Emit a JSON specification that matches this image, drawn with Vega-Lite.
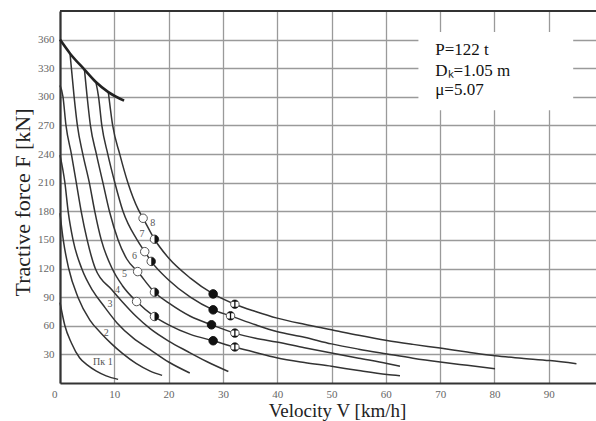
{
  "$schema": "https://vega.github.io/schema/vega-lite/v6.json",
  "width": 536,
  "height": 372,
  "autosize": {"type": "none"},
  "padding": {"left": 60, "top": 11, "right": 0, "bottom": 38},
  "background": "white",
  "config": {"view": {"stroke": null}, "font": "Liberation Serif"},
  "datasets": {
    "box": [{"V1": 66, "V2": 94.5, "F1": 286, "F2": 368}],
    "top": [{"F": 390}],
    "limit": [
      {"V": 0, "F": 360}, {"V": 1.84, "F": 345.5}, {"V": 4.5, "F": 328.6},
      {"V": 6.6, "F": 315.6}, {"V": 8.9, "F": 305}, {"V": 11.8, "F": 296}
    ],
    "curves": [
      {"curve": "1", "V": 0, "F": 84.4}, {"curve": "1", "V": 0.9, "F": 60}, {"curve": "1", "V": 2.1, "F": 42},
      {"curve": "1", "V": 3.6, "F": 26.5}, {"curve": "1", "V": 5, "F": 19}, {"curve": "1", "V": 6.7, "F": 12.5},
      {"curve": "1", "V": 8.5, "F": 7.5}, {"curve": "1", "V": 10.7, "F": 3.8},

      {"curve": "2", "V": 0, "F": 178}, {"curve": "2", "V": 0.6, "F": 150}, {"curve": "2", "V": 1.6, "F": 120},
      {"curve": "2", "V": 3.3, "F": 90}, {"curve": "2", "V": 5.5, "F": 66}, {"curve": "2", "V": 7.6, "F": 52},
      {"curve": "2", "V": 9.5, "F": 41}, {"curve": "2", "V": 11.5, "F": 31}, {"curve": "2", "V": 14, "F": 20.5},
      {"curve": "2", "V": 16.6, "F": 12.5}, {"curve": "2", "V": 18.8, "F": 8},

      {"curve": "3", "V": 0, "F": 239}, {"curve": "3", "V": 0.9, "F": 210}, {"curve": "3", "V": 1.5, "F": 180},
      {"curve": "3", "V": 2.4, "F": 150}, {"curve": "3", "V": 4, "F": 120}, {"curve": "3", "V": 6, "F": 97},
      {"curve": "3", "V": 7.9, "F": 82}, {"curve": "3", "V": 10.5, "F": 63}, {"curve": "3", "V": 13.5, "F": 47},
      {"curve": "3", "V": 16.6, "F": 35}, {"curve": "3", "V": 20, "F": 22}, {"curve": "3", "V": 23.9, "F": 10.5},

      {"curve": "4", "V": 0, "F": 312}, {"curve": "4", "V": 0.55, "F": 300}, {"curve": "4", "V": 1.1, "F": 270},
      {"curve": "4", "V": 2.1, "F": 240}, {"curve": "4", "V": 3, "F": 210}, {"curve": "4", "V": 3.9, "F": 180},
      {"curve": "4", "V": 5, "F": 150}, {"curve": "4", "V": 6.5, "F": 120}, {"curve": "4", "V": 9.5, "F": 98},
      {"curve": "4", "V": 11.5, "F": 85}, {"curve": "4", "V": 14, "F": 70}, {"curve": "4", "V": 16.6, "F": 57},
      {"curve": "4", "V": 20, "F": 44}, {"curve": "4", "V": 23.5, "F": 33}, {"curve": "4", "V": 27, "F": 22.5},
      {"curve": "4", "V": 31, "F": 12},

      {"curve": "5", "V": 1.84, "F": 345.5}, {"curve": "5", "V": 2.6, "F": 300}, {"curve": "5", "V": 3.2, "F": 270},
      {"curve": "5", "V": 4.2, "F": 240}, {"curve": "5", "V": 5.4, "F": 210}, {"curve": "5", "V": 6.4, "F": 180},
      {"curve": "5", "V": 7.6, "F": 150}, {"curve": "5", "V": 9.6, "F": 120}, {"curve": "5", "V": 11.5, "F": 102},
      {"curve": "5", "V": 14.1, "F": 85.4}, {"curve": "5", "V": 17.4, "F": 69.7}, {"curve": "5", "V": 20, "F": 61},
      {"curve": "5", "V": 24, "F": 51}, {"curve": "5", "V": 28.2, "F": 44.3}, {"curve": "5", "V": 32.2, "F": 37.7},
      {"curve": "5", "V": 36, "F": 32}, {"curve": "5", "V": 39.9, "F": 26.5}, {"curve": "5", "V": 45, "F": 21.5},
      {"curve": "5", "V": 50, "F": 17.5}, {"curve": "5", "V": 55, "F": 13}, {"curve": "5", "V": 60.2, "F": 8.9},
      {"curve": "5", "V": 62.6, "F": 7.6},

      {"curve": "6", "V": 4.5, "F": 328.6}, {"curve": "6", "V": 5, "F": 300}, {"curve": "6", "V": 5.6, "F": 270},
      {"curve": "6", "V": 6.7, "F": 240}, {"curve": "6", "V": 7.9, "F": 210}, {"curve": "6", "V": 9.1, "F": 180},
      {"curve": "6", "V": 10.7, "F": 150}, {"curve": "6", "V": 12.3, "F": 130}, {"curve": "6", "V": 14.3, "F": 116.8},
      {"curve": "6", "V": 17.4, "F": 95.2}, {"curve": "6", "V": 20, "F": 84}, {"curve": "6", "V": 24, "F": 70},
      {"curve": "6", "V": 27.9, "F": 61}, {"curve": "6", "V": 32.2, "F": 52.3}, {"curve": "6", "V": 36, "F": 47},
      {"curve": "6", "V": 39.9, "F": 43}, {"curve": "6", "V": 45, "F": 37}, {"curve": "6", "V": 50, "F": 31.4},
      {"curve": "6", "V": 55, "F": 26}, {"curve": "6", "V": 60.2, "F": 20.5}, {"curve": "6", "V": 62.6, "F": 17.6},

      {"curve": "7", "V": 6.6, "F": 315.6}, {"curve": "7", "V": 7.1, "F": 300}, {"curve": "7", "V": 7.7, "F": 270},
      {"curve": "7", "V": 8.8, "F": 240}, {"curve": "7", "V": 10.1, "F": 210}, {"curve": "7", "V": 11.6, "F": 180},
      {"curve": "7", "V": 14.2, "F": 150}, {"curve": "7", "V": 15.6, "F": 137.7}, {"curve": "7", "V": 16.8, "F": 127.5},
      {"curve": "7", "V": 20, "F": 108}, {"curve": "7", "V": 24, "F": 90}, {"curve": "7", "V": 28.2, "F": 76.7},
      {"curve": "7", "V": 31.4, "F": 70.4}, {"curve": "7", "V": 36, "F": 61}, {"curve": "7", "V": 39.9, "F": 54},
      {"curve": "7", "V": 45, "F": 48}, {"curve": "7", "V": 50, "F": 41}, {"curve": "7", "V": 55, "F": 35.5},
      {"curve": "7", "V": 60.2, "F": 30.5}, {"curve": "7", "V": 65, "F": 26}, {"curve": "7", "V": 70, "F": 22},
      {"curve": "7", "V": 75, "F": 18.5}, {"curve": "7", "V": 80.1, "F": 15},

      {"curve": "8", "V": 8.9, "F": 305}, {"curve": "8", "V": 9.7, "F": 270}, {"curve": "8", "V": 11, "F": 240},
      {"curve": "8", "V": 12.5, "F": 210}, {"curve": "8", "V": 14.4, "F": 182}, {"curve": "8", "V": 15.3, "F": 172.7},
      {"curve": "8", "V": 17.4, "F": 150.7}, {"curve": "8", "V": 20, "F": 131}, {"curve": "8", "V": 24, "F": 110},
      {"curve": "8", "V": 28.2, "F": 93.4}, {"curve": "8", "V": 32.2, "F": 82.6}, {"curve": "8", "V": 36, "F": 75},
      {"curve": "8", "V": 40, "F": 68}, {"curve": "8", "V": 45, "F": 61.5}, {"curve": "8", "V": 50, "F": 55.8},
      {"curve": "8", "V": 55, "F": 50}, {"curve": "8", "V": 60.2, "F": 44.6}, {"curve": "8", "V": 65, "F": 40.5},
      {"curve": "8", "V": 70, "F": 36.6}, {"curve": "8", "V": 75, "F": 32.5}, {"curve": "8", "V": 80.1, "F": 28.6},
      {"curve": "8", "V": 85, "F": 26}, {"curve": "8", "V": 90.2, "F": 23.5}, {"curve": "8", "V": 95.1, "F": 20.2}
    ],
    "markers": [
      {"kind": "open", "V": 15.3, "F": 172.7}, {"kind": "open", "V": 15.6, "F": 137.7},
      {"kind": "open", "V": 14.3, "F": 116.8}, {"kind": "open", "V": 14.1, "F": 85.4},
      {"kind": "half", "V": 17.4, "F": 150.7}, {"kind": "half", "V": 16.8, "F": 127.5},
      {"kind": "half", "V": 17.4, "F": 95.2}, {"kind": "half", "V": 17.4, "F": 69.7},
      {"kind": "filled", "V": 28.2, "F": 93.4}, {"kind": "filled", "V": 28.2, "F": 76.7},
      {"kind": "filled", "V": 27.9, "F": 61}, {"kind": "filled", "V": 28.2, "F": 44.3},
      {"kind": "hatched", "V": 32.2, "F": 82.6}, {"kind": "hatched", "V": 31.4, "F": 70.4},
      {"kind": "hatched", "V": 32.2, "F": 52.3}, {"kind": "hatched", "V": 32.2, "F": 37.7}
    ],
    "labels": [
      {"text": "Пк 1", "V": 7.9, "F": 22}, {"text": "2", "V": 8.5, "F": 52.7},
      {"text": "3", "V": 9.2, "F": 82.6}, {"text": "4", "V": 10.6, "F": 97.8},
      {"text": "5", "V": 11.9, "F": 114}, {"text": "6", "V": 13.7, "F": 133.5},
      {"text": "7", "V": 15.1, "F": 156.5}, {"text": "8", "V": 17.1, "F": 167.5}
    ],
    "note": [
      {"text": "P=122 t", "V": 69.1, "F": 349.5},
      {"text": "Dₖ=1.05 m", "V": 69.1, "F": 327},
      {"text": "μ=5.07", "V": 69.1, "F": 307}
    ]
  },
  "layer": [
    {
      "data": {"name": "box"},
      "mark": {"type": "rect", "fill": "white"},
      "encoding": {
        "x": {
          "field": "V1", "type": "quantitative",
          "scale": {"domain": [0, 98.7], "nice": false, "zero": false},
          "axis": {
            "values": [0, 10, 20, 30, 40, 50, 60, 70, 80, 90],
            "grid": true, "gridColor": "#9a9a9a", "gridWidth": 1.3,
            "domainColor": "#333", "domainWidth": 2.2,
            "ticks": false, "tickSize": 0,
            "labelFont": "Liberation Serif", "labelFontSize": 11, "labelColor": "#666",
            "labelPadding": 5,
            "labelAlign": {"condition": {"test": "datum.value == 0", "value": "right"}, "value": "center"},
            "labelOffset": {"condition": {"test": "datum.value == 0", "value": -3}, "value": 0},
            "title": "Velocity V [km/h]",
            "titleFont": "Liberation Serif", "titleFontSize": 19, "titleFontWeight": "normal",
            "titleColor": "#222", "titleX": 277, "titleY": 27, "titleBaseline": "middle", "titleAlign": "center"
          }
        },
        "x2": {"field": "V2"},
        "y": {
          "field": "F1", "type": "quantitative",
          "scale": {"domain": [0, 390], "nice": false, "zero": false},
          "axis": {
            "values": [30, 60, 90, 120, 150, 180, 210, 240, 270, 300, 330, 360],
            "tickCount": 13,
            "labelOverlap": false,
            "grid": true, "gridColor": "#9a9a9a", "gridWidth": 1.3,
            "domainColor": "#333", "domainWidth": 2.2,
            "ticks": false, "tickSize": 0,
            "labelFont": "Liberation Serif", "labelFontSize": 11, "labelColor": "#666",
            "labelPadding": 6,
            "title": "Tractive force F [kN]",
            "titleFont": "Liberation Serif", "titleFontSize": 22, "titleFontWeight": "normal",
            "titleColor": "#222", "titleX": -38, "titleY": 191, "titleBaseline": "middle", "titleAlign": "center", "titleAngle": 270
          }
        },
        "y2": {"field": "F2"}
      }
    },
    {
      "data": {"name": "top"},
      "mark": {"type": "rule", "stroke": "#333", "strokeWidth": 2.2},
      "encoding": {"y": {"field": "F", "type": "quantitative"}}
    },
    {
      "data": {"name": "curves"},
      "mark": {"type": "line", "stroke": "#333", "strokeWidth": 1.5, "interpolate": "monotone"},
      "encoding": {
        "x": {"field": "V", "type": "quantitative"},
        "y": {"field": "F", "type": "quantitative"},
        "detail": {"field": "curve", "type": "nominal"}
      }
    },
    {
      "data": {"name": "limit"},
      "mark": {"type": "line", "stroke": "#222", "strokeWidth": 2.6, "interpolate": "monotone"},
      "encoding": {
        "x": {"field": "V", "type": "quantitative"},
        "y": {"field": "F", "type": "quantitative"}
      }
    },
    {
      "data": {"name": "markers"},
      "transform": [{"filter": "datum.kind != 'filled'"}],
      "mark": {"type": "point", "shape": "circle", "filled": true, "fill": "white", "stroke": "#555", "strokeWidth": 1, "size": 72, "opacity": 1},
      "encoding": {
        "x": {"field": "V", "type": "quantitative"},
        "y": {"field": "F", "type": "quantitative"}
      }
    },
    {
      "data": {"name": "markers"},
      "transform": [{"filter": "datum.kind == 'filled'"}],
      "mark": {"type": "point", "shape": "circle", "filled": true, "fill": "#111", "stroke": "#111", "strokeWidth": 1, "size": 72, "opacity": 1},
      "encoding": {
        "x": {"field": "V", "type": "quantitative"},
        "y": {"field": "F", "type": "quantitative"}
      }
    },
    {
      "data": {"name": "markers"},
      "transform": [{"filter": "datum.kind == 'half'"}],
      "mark": {"type": "point", "shape": "M0,-1 A1,1 0 0,1 0,1 Z", "filled": true, "fill": "#111", "strokeWidth": 0, "size": 72, "opacity": 1},
      "encoding": {
        "x": {"field": "V", "type": "quantitative"},
        "y": {"field": "F", "type": "quantitative"}
      }
    },
    {
      "data": {"name": "markers"},
      "transform": [{"filter": "datum.kind == 'hatched'"}],
      "mark": {"type": "point", "shape": "M-0.8,-0.6 A1,1 0 0,1 0.8,-0.6 Z M-0.8,0.6 A1,1 0 0,0 0.8,0.6 Z M-0.15,-0.6 L0.15,-0.6 L0.15,0.6 L-0.15,0.6 Z", "filled": true, "fill": "#111", "strokeWidth": 0, "size": 72, "opacity": 1},
      "encoding": {
        "x": {"field": "V", "type": "quantitative"},
        "y": {"field": "F", "type": "quantitative"}
      }
    },
    {
      "data": {"name": "labels"},
      "mark": {"type": "text", "font": "Liberation Serif", "fontSize": 10, "fill": "#555", "align": "center", "baseline": "middle"},
      "encoding": {
        "x": {"field": "V", "type": "quantitative"},
        "y": {"field": "F", "type": "quantitative"},
        "text": {"field": "text"}
      }
    },
    {
      "data": {"name": "note"},
      "mark": {"type": "text", "font": "Liberation Serif", "fontSize": 17, "fill": "#111", "align": "left", "baseline": "middle"},
      "encoding": {
        "x": {"field": "V", "type": "quantitative"},
        "y": {"field": "F", "type": "quantitative"},
        "text": {"field": "text"}
      }
    }
  ]
}
